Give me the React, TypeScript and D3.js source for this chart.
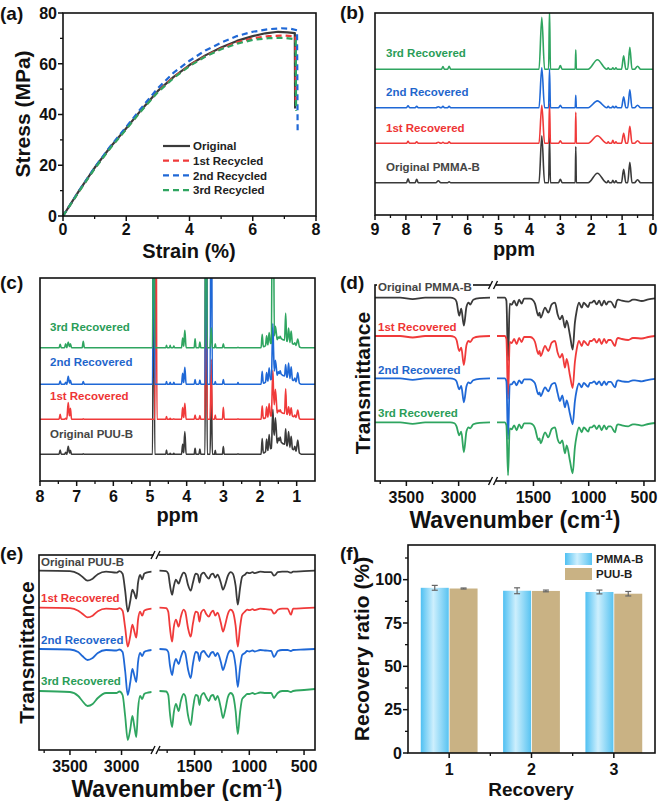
import React from 'react';
import * as d3 from 'd3';

type Pt = [number, number];

const FONT = '"Liberation Sans", Arial, Helvetica, sans-serif';
const INK = '#111';
const COLORS = ['#3a3a3a', '#f03a3a', '#1f68d6', '#2fa560'];
const LABEL_COLORS = ['#454545', '#ee3535', '#1f66cc', '#2a9d58'];

// ---- (a) stress-strain curves: [strain %, stress MPa]
const STRAIN_ORIGINAL: Pt[] = [[0, 0], [0.5, 9.8], [1, 19], [1.5, 27.2], [2, 34.6], [2.5, 42.2], [3, 49.3], [3.5, 54.8], [4, 59.5], [4.5, 63.3], [5, 66.4], [5.5, 69], [6, 70.9], [6.4, 72], [6.8, 72.6], [7.1, 72.4], [7.33, 72.1], [7.34, 42.4]];
const STRAIN_RECYCLED_1: Pt[] = [[0, 0], [0.5, 9.6], [1, 18.8], [1.5, 27], [2, 34.4], [2.5, 42], [3, 49.1], [3.5, 54.7], [4, 59.3], [4.5, 63], [5, 66], [5.5, 68.4], [6, 70], [6.5, 70.9], [7, 71.1], [7.35, 70.8], [7.36, 45]];
const STRAIN_RECYCLED_2: Pt[] = [[0, 0], [0.5, 9.8], [1, 19.1], [1.5, 27.5], [2, 35.1], [2.5, 42.9], [3, 50.4], [3.5, 56.5], [4, 61.2], [4.5, 65.2], [5, 68.3], [5.5, 70.9], [6, 72.6], [6.5, 73.6], [6.9, 74], [7.2, 73.8], [7.4, 73.2], [7.42, 32.5]];
const STRAIN_RECYCLED_3: Pt[] = [[0, 0], [0.5, 9.5], [1, 18.6], [1.5, 26.8], [2, 34.2], [2.5, 41.8], [3, 48.8], [3.5, 54.4], [4, 59.1], [4.5, 62.8], [5, 65.7], [5.5, 67.9], [6, 69.4], [6.5, 70.1], [7, 70.2], [7.36, 69.6], [7.37, 41.5]];
const STRAIN_LEGEND = ['Original', '1st Recycled', '2nd Recycled', '3rd Recycled'];

// ---- (b) 1H NMR of PMMA-B: peak shifts (ppm), half widths, heights per spectrum
const B_PPM = [7.93, 7.65, 6.95, 6.8, 6.6, 3.6, 3.35, 3.0, 2.5, 1.8, 1.45, 1.3, 1.2, 0.95, 0.75, 0.5];
const B_HW = [0.05, 0.05, 0.08, 0.05, 0.05, 0.09, 0.03, 0.06, 0.018, 0.3, 0.04, 0.04, 0.04, 0.07, 0.07, 0.1];
const B_ORIGINAL = [4, 3.5, 2, 0, 1, 47, 46, 3.5, 36, 9.5, 2, 2.5, 2, 13.5, 20.5, 3];
const B_REC_1 = [2, 1.5, 1, 1, 1.5, 38, 40, 2.5, 31, 7.5, 1.5, 3, 1.5, 10, 17, 2.5];
const B_REC_2 = [2, 1.5, 1, 1.5, 1.5, 40, 39, 2.3, 12.5, 6.8, 1.5, 1.5, 1.5, 11, 18, 2.5];
const B_REC_3 = [0, 0, 0, 2.7, 3, 52, 60, 3.7, 19.5, 9.5, 1.5, 1.5, 1.5, 13.5, 22, 3];
const B_OFFSETS = [32.3, 71.7, 107.3, 145.7];
const B_LABELS = ['Original PMMA-B', '1st Recovered', '2nd Recovered', '3rd Recovered'];

// ---- (c) 1H NMR of PUU-B (last entry is the broad aliphatic envelope)
const C_PPM = [7.45, 7.3, 7.23, 7.17, 6.82, 4.9, 4.84, 4.55, 4.45, 4.35, 4.11, 4.05, 3.77, 3.64, 3.47, 3.33, 3.22, 3.0, 2.6, 1.94, 1.82, 1.75, 1.65, 1.58, 1.5, 1.45, 1.3, 1.22, 1.15, 1.05, 0.97, 1.42];
const C_HW = [0.03, 0.03, 0.04, 0.03, 0.03, 0.03, 0.03, 0.02, 0.02, 0.02, 0.03, 0.035, 0.025, 0.025, 0.03, 0.03, 0.02, 0.025, 0.02, 0.03, 0.03, 0.035, 0.04, 0.05, 0.04, 0.03, 0.03, 0.035, 0.035, 0.03, 0.045, 0.55];
const C_ORIGINAL = [4.3, 2, 8, 4, 0.5, 300, 0, 4.3, 1, 1, 10, 22.7, 6, 5.3, 300, 80, 4, 7.7, 0.5, 15, 12, 15, 38, 28, 6, 6, 16, 15, 12, 4, 12, 12];
const C_REC_1 = [5, 1, 16.7, 11, 0.5, 0, 300, 2.7, 1, 0.5, 11.7, 16, 4.3, 3.7, 300, 60, 4.3, 12, 0.5, 13, 10.5, 13, 45, 25, 3, 3, 25, 8, 8, 2, 8, 7];
const C_REC_2 = [3.3, 2, 8, 4, 2.7, 300, 0, 2.7, 2, 2, 11, 17, 4.7, 4.3, 300, 300, 2.7, 4.7, 1.7, 12.5, 9, 12.5, 55, 17, 4, 4, 12, 15, 12.5, 3, 10, 10];
const C_REC_3 = [3.3, 4, 5.7, 4, 6.3, 300, 0, 2.3, 2.3, 1.7, 9.7, 17.3, 9, 5.7, 300, 20, 4, 4, 0.5, 13, 9.5, 11.5, 300, 15, 3, 3, 27.5, 14, 12, 2, 7, 9];
const C_OFFSETS = [26.7, 61.7, 96.7, 133.3];
const C_LABELS = ['Original PUU-B', '1st Recovered', '2nd Recovered', '3rd Recovered'];

// ---- (d) FTIR of PMMA-B: wavenumbers and band depth below each baseline
const D_LEFT_WN = [3800, 3560, 3440, 3320, 3080, 3040, 3020, 2995, 2975, 2950, 2925, 2905, 2890, 2860, 2800, 2700];
const D_LEFT = [
  [0, 0, 1.5, 0, 0, 1, 4, 18, 11, 28, 9, 5, 7, 2, 0.5, 0],
  [0, 0, 1.5, 0, 0, 1, 4, 15, 11.7, 29, 9, 5, 6, 2, 0.5, 0],
  [0, 0, 1.5, 0, 0, 1, 3, 11, 7.7, 24, 8, 4, 5, 2, 0.5, 0],
  [0, 0, 1.5, 0, 0, 1, 4, 13, 9.3, 30, 9, 5, 6, 2, 0.5, 0],
];
const D_RIGHT_WN = [1830, 1760, 1745, 1730, 1715, 1697, 1675, 1652, 1630, 1607, 1585, 1530, 1500, 1486, 1456, 1445, 1435, 1395, 1366, 1335, 1305, 1281, 1260, 1239, 1215, 1199, 1169, 1145, 1125, 1109, 1088, 1063, 1045, 1034, 1004, 990, 973, 950, 928, 905, 883, 860, 840, 822, 800, 762, 745, 732, 700, 642, 600, 581, 520, 460, 400];
const D_RIGHT = [
  [0, 0, 3, 63, 6, 7, 3, 8, 2, 6, 1, 1, 3, 6, 18, 15, 20, 10, 15, 6.7, 5, 16.7, 21.7, 18, 30, 23, 38, 52, 25, 13.3, 5, 10, 5, 6, 9.3, 5, 5, 3, 6.7, 3, 8, 3, 7, 4, 4, 10, 3, 2, 3, 4, 2, 2, 3.3, 1.7, 0.7],
  [0, 0, 3, 63, 6, 7, 3, 8, 2, 6, 1, 1, 3, 6, 18, 15, 20, 10, 15, 6.7, 5, 16.7, 21.7, 18, 31.7, 23, 40, 52, 26, 13.3, 5, 10, 5, 6, 9.3, 5, 5, 3, 6.7, 3, 8, 3, 7, 4, 4, 10, 3, 2, 3, 4, 2, 2, 2.5, 1, 0],
  [0, 0, 3, 61, 6, 6, 3, 7, 2, 5, 1, 1, 3, 5, 16, 14, 17.7, 9, 13, 6, 4.5, 15, 22.7, 17, 29, 22, 36, 46, 23, 12, 5, 9, 4.5, 5.5, 8.5, 4.5, 4.5, 3, 6, 3, 7, 3, 6.5, 3.5, 3.5, 9, 3, 2, 3, 3.5, 2, 2, 3, 1.5, 0.5],
  [0, 0, 3, 53, 6, 7, 3, 8, 2, 6, 1, 1, 3, 6, 17.7, 16, 21, 10, 15, 6.7, 5, 17, 21, 18, 31, 23, 39, 51, 25, 13.3, 5, 10, 5, 6, 9.3, 5, 5, 3, 6.7, 3, 8, 3, 7, 4, 4, 10, 3, 2, 3, 4, 2, 2, 3.3, 1.7, 0.7],
];
const D_OFFSETS = [183.3, 145, 102.7, 58.7];

// ---- (e) FTIR of PUU-B
const E_LEFT_WN = [3800, 3500, 3420, 3380, 3330, 3280, 3230, 3150, 3050, 3020, 2990, 2965, 2940, 2915, 2895, 2875, 2857, 2840, 2820, 2800, 2780, 2760, 2710];
const E_LEFT = [
  [0, 0.5, 3, 6, 10, 8, 3.5, 1, 2, 0.5, 3, 20, 41, 30, 19, 23, 28, 12, 4.3, 8.7, 3, 2, 1],
  [0, 0.5, 3, 6, 9.7, 8, 3.5, 1, 1.5, 0.5, 3, 20, 39, 28, 17, 24, 30, 12, 4, 8, 3, 2, 1],
  [0, 0.5, 3, 7, 11, 9, 4, 1, 1.5, 0.5, 3, 22, 46, 33, 20, 27, 33, 13, 4, 7, 3, 2, 1],
  [0, 1, 5, 10, 15, 13, 7, 2, 2, 0.5, 4, 25, 49, 38, 25, 36, 46, 18, 5, 8, 3, 2, 1],
];
const E_RIGHT_WN = [1820, 1760, 1740, 1725, 1705, 1690, 1670, 1645, 1625, 1600, 1585, 1560, 1535, 1515, 1490, 1470, 1455, 1440, 1415, 1395, 1370, 1350, 1330, 1310, 1290, 1260, 1240, 1220, 1195, 1170, 1150, 1125, 1105, 1085, 1065, 1040, 1020, 1000, 970, 950, 900, 850, 800, 775, 760, 740, 700, 650, 620, 600, 500, 400];
const E_RIGHT = [
  [0, 0.5, 3, 14, 24, 16, 9, 13, 7, 2, 3, 14, 20, 12, 3, 4, 12, 4, 2, 5, 8, 4, 3, 7, 4, 12, 19, 14, 5, 1.5, 3, 15, 34, 18, 6, 4, 2, 2.5, 1.5, 2.5, 1, 1.5, 1.5, 5, 4, 1.5, 1, 1, 2, 1, 0.5, 0],
  [0, 0.5, 4, 20, 34, 20, 12, 19, 9, 2, 4, 20, 29, 16, 4, 5, 14, 5, 2, 6, 9, 5, 3, 8, 5, 15, 24, 17, 6, 2, 4, 18, 39, 20, 7, 4, 2, 2.5, 1.5, 2.5, 1, 1.5, 2, 6, 5, 2, 1, 1, 7, 1, 0.5, 0],
  [0, 0.5, 3, 16, 26, 17, 10, 15, 8, 2, 4, 20, 29, 15, 3, 4, 12, 4, 2, 5, 8, 4, 3, 7, 4, 13, 21, 15, 5, 1.5, 3, 17, 38, 19, 6, 4, 2, 2.5, 1.5, 2.5, 1, 1.5, 2, 8, 6, 2, 1, 1, 2, 1, 0.5, 0],
  [0, 0.5, 4, 22, 36, 22, 13, 20, 10, 3, 5, 24, 34, 18, 4, 5, 14, 5, 2, 6, 10, 5, 4, 9, 5, 17, 27, 19, 6, 2, 4, 20, 43, 22, 8, 5, 3, 3, 2, 3, 1.5, 2, 2, 7, 5, 2, 0, 0, 1, 0, -1, -2],
];
const E_OFFSETS = [179.3, 142.3, 101, 59];

// ---- (f) recovery ratio
const CYCLES = [1, 2, 3];
const PMMA_RATIO = [95.3, 93.6, 92.9];
const PMMA_ERR = [1.4, 1.7, 1.1];
const PUU_RATIO = [94.9, 93.5, 91.9];
const PUU_ERR = [0.3, 0.5, 1.3];

const tickStyle: React.CSSProperties = { fontFamily: FONT, fontWeight: 700, fontSize: 16, fill: INK };
const title = (size: number): React.CSSProperties => ({ fontFamily: FONT, fontWeight: 700, fontSize: size, fill: INK });
const tagStyle: React.CSSProperties = { fontFamily: FONT, fontWeight: 700, fontSize: 19, fill: INK };
const seriesStyle: React.CSSProperties = { fontFamily: FONT, fontWeight: 700, fontSize: 11.5 };

// sum of triangular peaks, evaluated at every breakpoint (exact piecewise-linear trace)
function peakTrace(ppm: number[], hw: number[], h: number[], lo: number, hi: number): Pt[] {
  const xs = new Set<number>([lo, hi]);
  ppm.forEach((p, i) => {
    if (h[i] === 0) return;
    [p - hw[i], p, p + hw[i]].forEach(v => { if (v > lo && v < hi) xs.add(+v.toFixed(4)); });
  });
  return [...xs]
    .sort((a, b) => b - a)
    .map(v => [v, d3.sum(ppm, (p, i) => h[i] * Math.max(0, 1 - Math.abs(v - p) / hw[i]))] as Pt);
}

function XTicks({ x, y, major, minor, labelY, fmt }: { x: (v: number) => number; y: number; major: number[]; minor: number[]; labelY: number; fmt?: (v: number) => string }) {
  return (
    <g>
      {minor.map(v => <line key={'m' + v} x1={x(v)} x2={x(v)} y1={y} y2={y + 3} stroke={INK} strokeWidth={1.3} />)}
      {major.map(v => (
        <g key={v}>
          <line x1={x(v)} x2={x(v)} y1={y} y2={y + 5} stroke={INK} strokeWidth={1.5} />
          <text x={x(v)} y={labelY} textAnchor="middle" style={tickStyle}>{fmt ? fmt(v) : String(v)}</text>
        </g>
      ))}
    </g>
  );
}

function YTicks({ y, x, major, minor, labelX }: { y: (v: number) => number; x: number; major: number[]; minor: number[]; labelX: number }) {
  return (
    <g>
      {minor.map(v => <line key={'m' + v} x1={x - 3} x2={x} y1={y(v)} y2={y(v)} stroke={INK} strokeWidth={1.3} />)}
      {major.map(v => (
        <g key={v}>
          <line x1={x - 5} x2={x} y1={y(v)} y2={y(v)} stroke={INK} strokeWidth={1.5} />
          <text x={labelX} y={y(v)} dy="0.36em" textAnchor="end" style={tickStyle}>{v}</text>
        </g>
      ))}
    </g>
  );
}

function StressPanel() {
  const x = d3.scaleLinear().domain([0, 8]).range([63, 316]);
  const y = d3.scaleLinear().domain([0, 80]).range([216, 13]);
  const line = d3.line<Pt>().x(d => x(d[0])).y(d => y(d[1]));
  const curves = [STRAIN_ORIGINAL, STRAIN_RECYCLED_1, STRAIN_RECYCLED_2, STRAIN_RECYCLED_3];
  return (
    <g>
      <text x={0} y={20} style={tagStyle}>(a)</text>
      {curves.map((c, i) => (
        <path key={i} d={line(c) ?? ''} fill="none" stroke={COLORS[i]} strokeWidth={2.2}
          strokeDasharray={i ? '6 4' : undefined} strokeLinejoin="round" />
      ))}
      <rect x={63} y={13} width={253} height={203} fill="none" stroke={INK} strokeWidth={1.6} />
      <XTicks x={x} y={216} major={[0, 2, 4, 6, 8]} minor={[1, 3, 5, 7]} labelY={235} />
      <YTicks y={y} x={63} major={[0, 20, 40, 60, 80]} minor={[10, 30, 50, 70]} labelX={57} />
      <text x={189} y={258} textAnchor="middle" style={title(20)}>Strain (%)</text>
      <text transform="translate(23,114) rotate(-90)" textAnchor="middle" dy="0.35em" style={title(21)}>Stress (MPa)</text>
      {STRAIN_LEGEND.map((name, i) => {
        const ly = 146 + i * 14.7;
        return (
          <g key={name}>
            <line x1={163} x2={190} y1={ly} y2={ly} stroke={COLORS[i]} strokeWidth={2.2} strokeDasharray={i ? '6 4' : undefined} />
            <text x={193} y={ly} dy="0.36em" style={{ ...seriesStyle, fill: '#222' }}>{name}</text>
          </g>
        );
      })}
    </g>
  );
}

function NmrPanel(props: {
  tag: string; tagY: number; tagX: number; clipId: string;
  box: { l: number; r: number; t: number; b: number };
  domain: [number, number]; majors: number[]; minors: number[];
  ppm: number[]; hw: number[]; spectra: number[][]; offsets: number[];
  labels: string[]; labelX: number; labelY: number[]; tickY: number; titleY: number;
}) {
  const { box } = props;
  const x = d3.scaleLinear().domain(props.domain).range([box.l, box.r]);
  const y = d3.scaleLinear().domain([0, box.b - box.t]).range([box.b, box.t]);
  const lo = Math.min(...props.domain), hi = Math.max(...props.domain);
  return (
    <g>
      <defs>
        <clipPath id={props.clipId}><rect x={box.l} y={box.t} width={box.r - box.l} height={box.b - box.t} /></clipPath>
      </defs>
      <text x={props.tagX} y={props.tagY} style={tagStyle}>{props.tag}</text>
      <g clipPath={`url(#${props.clipId})`}>
        {props.spectra.map((h, i) => {
          const line = d3.line<Pt>().x(d => x(d[0])).y(d => y(props.offsets[i] + d[1])).curve(d3.curveMonotoneX);
          return <path key={i} d={line(peakTrace(props.ppm, props.hw, h, lo, hi)) ?? ''} fill="none" stroke={COLORS[i]} strokeWidth={1.6} strokeLinejoin="round" />;
        })}
      </g>
      {props.labels.map((t, i) => (
        <text key={t} x={props.labelX} y={props.labelY[i]} style={{ ...seriesStyle, fill: LABEL_COLORS[i] }}>{t}</text>
      ))}
      <rect x={box.l} y={box.t} width={box.r - box.l} height={box.b - box.t} fill="none" stroke={INK} strokeWidth={1.6} />
      <XTicks x={x} y={box.b} major={props.majors} minor={props.minors} labelY={props.tickY} />
      <text x={(box.l + box.r) / 2} y={props.titleY} textAnchor="middle" style={title(20)}>ppm</text>
    </g>
  );
}

function IrPanel(props: {
  tag: string; tagX: number; tagY: number; clipId: string;
  box: { l: number; r: number; t: number; b: number }; brk: number;
  rightDomain: [number, number];
  leftWn: number[]; rightWn: number[]; left: number[][]; right: number[][]; offsets: number[];
  labels: string[]; labelX: number; labelY: number[]; labelBacking?: boolean;
  tickY: number; titleY: number; yTitleX: number;
}) {
  const { box, brk } = props;
  const xl = d3.scaleLinear().domain([3800, 2700]).range([box.l, brk - 3.5]);
  const xr = d3.scaleLinear().domain(props.rightDomain).range([brk + 3.5, box.r]);
  const y = d3.scaleLinear().domain([0, box.b - box.t]).range([box.b, box.t]);
  const slash = (cy: number) => (
    <g>
      <rect x={brk - 2.5} y={cy - 2} width={5} height={4} fill="#fff" />
      <line x1={brk - 5} y1={cy + 4} x2={brk - 1} y2={cy - 4} stroke={INK} strokeWidth={1.4} />
      <line x1={brk} y1={cy + 4} x2={brk + 4} y2={cy - 4} stroke={INK} strokeWidth={1.4} />
    </g>
  );
  const seg = (wn: number[], depth: number[], off: number, sx: (v: number) => number) => {
    const pts: Pt[] = wn.map((w, k) => [w, depth[k]]);
    return d3.line<Pt>().x(d => sx(d[0])).y(d => y(off - d[1])).curve(d3.curveMonotoneX)(pts) ?? '';
  };
  return (
    <g>
      <defs>
        <clipPath id={props.clipId}><rect x={box.l} y={box.t} width={box.r - box.l} height={box.b - box.t} /></clipPath>
      </defs>
      <text x={props.tagX} y={props.tagY} style={tagStyle}>{props.tag}</text>
      <g clipPath={`url(#${props.clipId})`}>
        {props.offsets.map((off, i) => (
          <g key={i} fill="none" stroke={COLORS[i]} strokeWidth={1.8} strokeLinejoin="round">
            <path d={seg(props.leftWn, props.left[i], off, xl)} />
            <path d={seg(props.rightWn, props.right[i], off, xr)} />
          </g>
        ))}
      </g>
      <rect x={box.l} y={box.t} width={box.r - box.l} height={box.b - box.t} fill="none" stroke={INK} strokeWidth={1.6} />
      {slash(box.t)}
      {slash(box.b)}
      {props.labels.map((t, i) => (
        <g key={t}>
          {i === 0 && props.labelBacking && <rect x={props.labelX - 1} y={props.labelY[0] - 10} width={96} height={13} fill="#fff" />}
          <text x={props.labelX} y={props.labelY[i]} style={{ ...seriesStyle, fill: LABEL_COLORS[i] }}>{t}</text>
        </g>
      ))}
      <XTicks x={xl} y={box.b} major={[3500, 3000]} minor={[3750, 3250]} labelY={props.tickY} />
      <XTicks x={xr} y={box.b} major={[1500, 1000, 500]} minor={[1750, 1250, 750]} labelY={props.tickY} />
      <text x={(box.l + box.r) / 2} y={props.titleY} textAnchor="middle" style={title(23)}>
        Wavenumber (cm<tspan dy="-8" fontSize={14}>-1</tspan><tspan dy="8">)</tspan>
      </text>
      <text transform={`translate(${props.yTitleX},${(box.t + box.b) / 2}) rotate(-90)`} textAnchor="middle" dy="0.35em" style={title(21)}>Transmittance</text>
    </g>
  );
}

function RecoveryPanel() {
  const x = d3.scaleLinear().domain([0.5, 3.5]).range([408, 655]);
  const y = d3.scaleLinear().domain([0, 120]).range([753, 545]);
  const bw = 0.34;
  const errBar = (cx: number, v: number, e: number, key: string) => (
    <g key={key} stroke="#666" strokeWidth={1.2}>
      <line x1={cx} x2={cx} y1={y(v - e)} y2={y(v + e)} />
      <line x1={cx - 3} x2={cx + 3} y1={y(v - e)} y2={y(v - e)} />
      <line x1={cx - 3} x2={cx + 3} y1={y(v + e)} y2={y(v + e)} />
    </g>
  );
  return (
    <g>
      <defs>
        <linearGradient id="pmmaFill" x1="0" x2="1" y1="0" y2="0">
          <stop offset="0%" stopColor="#4fc0f2" />
          <stop offset="45%" stopColor="#cdeffd" />
          <stop offset="100%" stopColor="#58c3f1" />
        </linearGradient>
      </defs>
      <text x={340} y={560} style={tagStyle}>(f)</text>
      {CYCLES.map((c, i) => (
        <g key={c}>
          <rect x={x(c - bw - 0.005)} y={y(PMMA_RATIO[i])} width={x(c) - x(c - bw)} height={y(0) - y(PMMA_RATIO[i])} fill="url(#pmmaFill)" />
          <rect x={x(c + 0.005)} y={y(PUU_RATIO[i])} width={x(c + bw) - x(c)} height={y(0) - y(PUU_RATIO[i])} fill="#c9b284" />
          {errBar(x(c - bw / 2 - 0.005), PMMA_RATIO[i], PMMA_ERR[i], 'p' + c)}
          {errBar(x(c + bw / 2 + 0.005), PUU_RATIO[i], PUU_ERR[i], 'u' + c)}
        </g>
      ))}
      <rect x={408} y={545} width={247} height={208} fill="none" stroke={INK} strokeWidth={1.6} />
      <XTicks x={x} y={753} major={CYCLES} minor={[1.5, 2.5]} labelY={775} />
      <YTicks y={y} x={408} major={[0, 25, 50, 75, 100]} minor={[12.5, 37.5, 62.5, 87.5, 112.5]} labelX={402} />
      <text x={531} y={796} textAnchor="middle" style={title(19)}>Recovery</text>
      <text transform="translate(362,649) rotate(-90)" textAnchor="middle" dy="0.35em" style={title(21)}>Recovery ratio (%)</text>
      <rect x={565} y={553} width={27} height={12} fill="url(#pmmaFill)" />
      <rect x={565} y={568} width={27} height={12} fill="#c9b284" />
      <text x={596} y={559} dy="0.36em" style={{ ...seriesStyle, fill: '#222' }}>PMMA-B</text>
      <text x={596} y={574} dy="0.36em" style={{ ...seriesStyle, fill: '#222' }}>PUU-B</text>
    </g>
  );
}

export default function App() {
  return (
    <svg width={660} height={801} viewBox="0 0 660 801" style={{ position: 'absolute', left: 0, top: 0, background: '#fff' }}>
      <StressPanel />
      <NmrPanel tag="(b)" tagX={340} tagY={19} clipId="clipB"
        box={{ l: 375, r: 653, t: 13, b: 215 }} domain={[9, 0]}
        majors={[9, 8, 7, 6, 5, 4, 3, 2, 1, 0]} minors={[8.5, 7.5, 6.5, 5.5, 4.5, 3.5, 2.5, 1.5, 0.5]}
        ppm={B_PPM} hw={B_HW} spectra={[B_ORIGINAL, B_REC_1, B_REC_2, B_REC_3]} offsets={B_OFFSETS}
        labels={B_LABELS} labelX={386} labelY={[171, 132, 96, 57]} tickY={235} titleY={256} />
      <NmrPanel tag="(c)" tagX={0} tagY={289} clipId="clipC"
        box={{ l: 40, r: 315, t: 278, b: 481 }} domain={[8, 0.5]}
        majors={[8, 7, 6, 5, 4, 3, 2, 1]} minors={[7.5, 6.5, 5.5, 4.5, 3.5, 2.5, 1.5]}
        ppm={C_PPM} hw={C_HW} spectra={[C_ORIGINAL, C_REC_1, C_REC_2, C_REC_3]} offsets={C_OFFSETS}
        labels={C_LABELS} labelX={50} labelY={[438, 400, 366, 331]} tickY={502} titleY={522} />
      <IrPanel tag="(d)" tagX={340} tagY={289} clipId="clipD"
        box={{ l: 375, r: 655, t: 285, b: 481 }} brk={493.5} rightDomain={[1830, 400]}
        leftWn={D_LEFT_WN} rightWn={D_RIGHT_WN} left={D_LEFT} right={D_RIGHT} offsets={D_OFFSETS}
        labels={B_LABELS} labelX={378} labelY={[291, 331, 374, 417]} labelBacking
        tickY={503} titleY={528} yTitleX={363} />
      <IrPanel tag="(e)" tagX={0} tagY={560} clipId="clipE"
        box={{ l: 39, r: 315, t: 555, b: 750 }} brk={156} rightDomain={[1820, 400]}
        leftWn={E_LEFT_WN} rightWn={E_RIGHT_WN} left={E_LEFT} right={E_RIGHT} offsets={E_OFFSETS}
        labels={C_LABELS} labelX={41} labelY={[566, 602, 644, 685]}
        tickY={772} titleY={797} yTitleX={27} />
      <RecoveryPanel />
    </svg>
  );
}
